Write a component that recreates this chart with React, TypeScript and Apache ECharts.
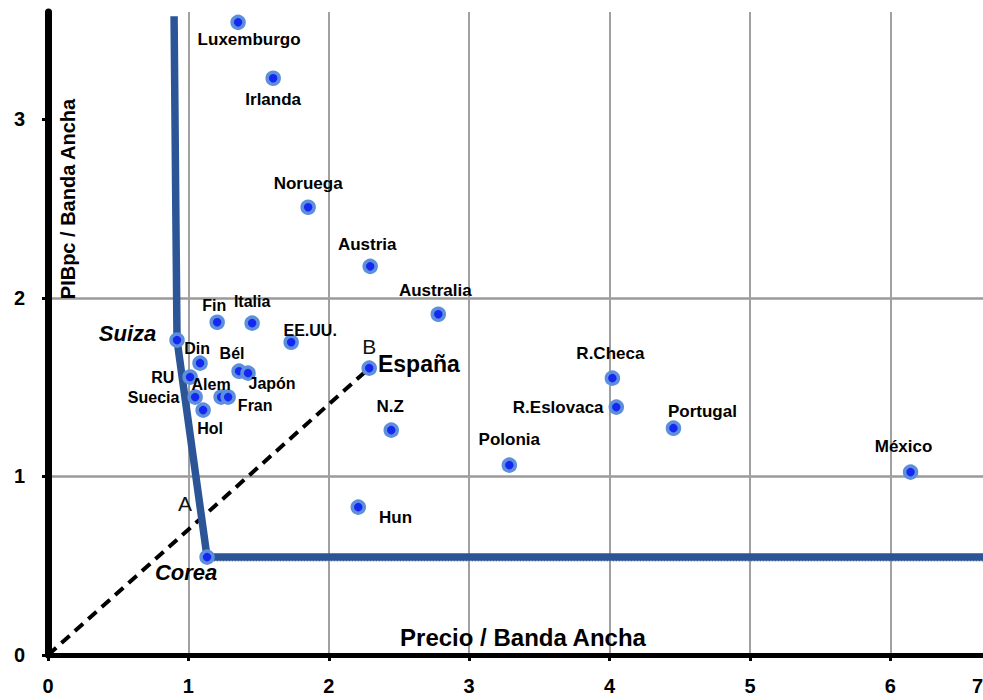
import React, { useEffect, useRef } from "react";
import * as echarts from "echarts";

// ---- data ----
const countries = [
  "Luxemburgo", "Irlanda", "Noruega", "Austria", "Australia", "Fin", "Italia", "EE.UU.",
  "Suiza", "Din", "Bél", "Japón", "RU", "Suecia", "Alem", "Fran", "Hol", "España",
  "R.Checa", "R.Eslovaca", "Portugal", "N.Z", "Polonia", "México", "Hun", "Corea",
];
const priceRatio = [
  1.354, 1.604, 1.853, 2.295, 2.78, 1.205, 1.454, 1.732,
  0.919, 1.083, 1.361, 1.425, 1.012, 1.048, 1.233, 1.283, 1.105, 2.288,
  4.02, 4.048, 4.455, 2.445, 3.286, 6.144, 2.21, 1.133,
];
const gdpRatio = [
  3.542, 3.229, 2.507, 2.176, 1.908, 1.863, 1.858, 1.751,
  1.763, 1.634, 1.589, 1.578, 1.556, 1.444, 1.444, 1.444, 1.371, 1.606,
  1.55, 1.388, 1.27, 1.259, 1.063, 1.024, 0.828, 0.548,
];

const X_MAX = 6.66;
const Y_MAX = 3.6;

const frontierX = [0.898, 0.919, 1.133, X_MAX];
const frontierY = [3.576, 1.763, 0.548, 0.548];

const rayX = [0, 2.288];
const rayY = [0, 1.606];

const dottedX = [1.18, X_MAX];
const dottedY = [0.527, 0.527];

const letters = ["A", "B"];
const letterX = [0.976, 2.288];
const letterY = [0.851, 1.729];

const xTickValues = [0, 1, 2, 3, 4, 5, 6];
const yTickValues = [0, 1, 2, 3];

const xAxisTitle = "Precio / Banda Ancha";
const yAxisTitle = "PIBpc / Banda Ancha";

// ---- label placement (style only) ----
const labelPlacement: Record<string, [string, number, number]> = {
  Luxemburgo: ["bottom", 11, -4],
  Irlanda: ["bottom", 0, 0],
  Noruega: ["top", 0, -2],
  Austria: ["top", -3, -1],
  Australia: ["top", -3, -2],
  Fin: ["top", -3, 4],
  Italia: ["top", 0, -1],
  "EE.UU.": ["top", 19, 9],
  Suiza: ["left", -8, -7],
  Din: ["top", -3, 6],
  "Bél": ["top", -7, 3],
  "Japón": ["bottom", 24, -10],
  RU: ["left", -3, 0],
  Suecia: ["left", -3, 0],
  Alem: ["top", -10, 8],
  Fran: ["right", -3, 8],
  Hol: ["bottom", 7, -2],
  "España": ["right", -4, -4],
  "R.Checa": ["top", -2, -3],
  "R.Eslovaca": ["left", 0, 0],
  Portugal: ["top", 29, 5],
  "N.Z": ["top", -1, -2],
  Polonia: ["top", 0, -4],
  "México": ["top", -7, -4],
  Hun: ["right", 8, 10],
  Corea: ["bottom", -21, -8],
};
const clusterNames = ["Fin", "Italia", "EE.UU.", "Din", "Bél", "Japón", "RU", "Suecia", "Alem", "Fran", "Hol"];
const FONT = '"Liberation Sans", Arial, Helvetica, sans-serif';

const pairs = (xs: number[], ys: number[]) => xs.map((x, i) => [x, ys[i]]);

export default function App() {
  const ref = useRef<HTMLDivElement>(null);

  useEffect(() => {
    if (!ref.current) return;
    const chart = echarts.init(ref.current, undefined, { renderer: "svg" });

    const pointData = countries.map((name, i) => {
      const [pos, dx, dy] = labelPlacement[name] || ["top", 0, 0];
      let fontSize = clusterNames.includes(name) ? 16 : 17;
      let fontStyle = "normal";
      if (name === "Suiza" || name === "Corea") {
        fontSize = 22;
        fontStyle = "italic";
      }
      if (name === "España") fontSize = 23;
      return {
        name,
        value: [priceRatio[i], gdpRatio[i]],
        label: { position: pos, offset: [dx, dy], fontSize, fontStyle },
      };
    });

    const letterData = letters.map((l, i) => ({ name: l, value: [letterX[i], letterY[i]] }));

    const option: any = {
      animation: false,
      backgroundColor: "#ffffff",
      grid: { left: 48, right: 0, top: 12, bottom: 45, containLabel: false, outerBoundsMode: "none" },
      xAxis: {
        type: "value",
        min: 0,
        max: X_MAX,
        interval: 1,
        axisLine: { show: true, onZero: false, lineStyle: { color: "#000", width: 5 } },
        axisTick: { show: true, length: 6, customValues: xTickValues, lineStyle: { color: "#000", width: 3 } },
        axisLabel: {
          customValues: [...xTickValues, X_MAX],
          formatter: (v: number) => String(Math.round(v)),
          margin: 21,
          color: "#000",
          fontWeight: "bold",
          fontSize: 20,
          fontFamily: FONT,
          alignMaxLabel: "right",
        },
        splitLine: { show: true, showMinLine: false, lineStyle: { color: "#a0a0a0", width: 2 } },
      },
      yAxis: {
        type: "value",
        min: 0,
        max: Y_MAX,
        interval: 1,
        axisLine: { show: true, onZero: false, lineStyle: { color: "#000", width: 7 } },
        axisTick: { show: true, length: 6, customValues: yTickValues, lineStyle: { color: "#000", width: 3 } },
        axisLabel: {
          customValues: yTickValues,
          margin: 23,
          color: "#000",
          fontWeight: "bold",
          fontSize: 20,
          fontFamily: FONT,
        },
        splitLine: { show: true, showMinLine: false, showMaxLine: false, lineStyle: { color: "#9a9a9a", width: 2.5 } },
      },
      graphic: [
        {
          type: "text",
          x: 523,
          y: 637,
          z: 50,
          style: {
            text: xAxisTitle,
            font: `bold 24px ${FONT}`,
            fill: "#000",
            align: "center",
            verticalAlign: "middle",
            textAlign: "center",
            textVerticalAlign: "middle",
          },
        },
        {
          type: "text",
          x: 68,
          y: 199,
          rotation: Math.PI / 2,
          z: 50,
          style: {
            text: yAxisTitle,
            font: `bold 20px ${FONT}`,
            fill: "#000",
            align: "center",
            verticalAlign: "middle",
            textAlign: "center",
            textVerticalAlign: "middle",
          },
        },
      ],
      series: [
        {
          type: "line",
          data: pairs(dottedX, dottedY),
          symbol: "none",
          silent: true,
          lineStyle: { color: "#8a8a8a", width: 1.5, type: "dotted" },
          z: 2,
        },
        {
          type: "line",
          data: pairs(rayX, rayY),
          symbol: "none",
          silent: true,
          lineStyle: { color: "#000", width: 4, type: [11, 7] },
          z: 3,
        },
        {
          type: "line",
          data: pairs(frontierX, frontierY),
          symbol: "none",
          silent: true,
          lineStyle: { color: "#2b5597", width: 7.5, join: "round" },
          z: 4,
        },
        {
          type: "scatter",
          data: pointData,
          symbol: "circle",
          symbolSize: 12,
          z: 5,
          itemStyle: { color: "#1428f2", borderColor: "#5e8fdc", borderWidth: 3.5, opacity: 1 },
          label: {
            show: true,
            formatter: "{b}",
            color: "#000",
            fontWeight: "bold",
            fontFamily: FONT,
            distance: 5,
          },
        },
        {
          type: "scatter",
          data: letterData,
          symbolSize: 0,
          z: 6,
          itemStyle: { opacity: 1 },
          label: {
            show: true,
            position: "inside",
            formatter: "{b}",
            color: "#111",
            fontSize: 21,
            fontFamily: FONT,
          },
        },
      ],
    };

    chart.setOption(option);
    return () => chart.dispose();
  }, []);

  return <div ref={ref} style={{ position: "fixed", left: 0, top: 0, width: 983, height: 700 }} />;
}
